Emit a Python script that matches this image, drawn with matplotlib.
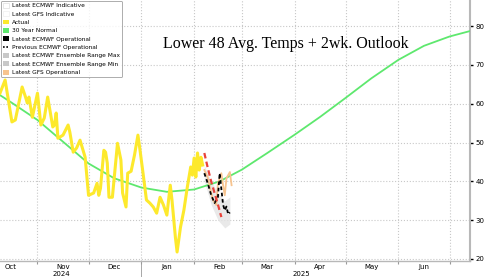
import matplotlib
matplotlib.use("Agg")
import matplotlib.pyplot as plt
import matplotlib.dates as mdates
import matplotlib.transforms as mtransforms
from matplotlib.patches import Patch
from matplotlib.lines import Line2D
import numpy as np

# days counted from Oct 1 2024
actual_day = [9, 12, 16, 18, 22, 24, 25, 26, 28, 31, 33, 35, 37, 40, 41, 42, 43, 46, 49, 50,
              52, 54, 56, 59, 61, 64, 66, 67, 68, 70, 71, 72, 73, 75, 78, 80, 81, 83, 84, 86,
              88, 90, 91, 93, 95, 97, 99, 101, 103, 105, 107, 109, 110, 112, 113, 115, 117, 119,
              121, 122, 123, 124, 125, 126, 127, 128]
actual_temp = [62.7, 66.1, 55.3, 55.8, 64.3, 61.7, 60.2, 61.7, 56.5, 62.7, 54.5, 56.3, 61.7, 54.0,
               54.5, 57.6, 51.1, 51.9, 54.5, 52.7, 47.5, 48.6, 50.6, 46.2, 36.4, 37.0, 39.5, 36.4,
               38.2, 48.0, 47.5, 44.7, 35.9, 35.9, 49.8, 45.5, 37.0, 33.4, 42.1, 42.6, 46.8, 51.9,
               48.8, 42.1, 35.2, 34.4, 33.4, 31.8, 35.9, 33.9, 31.3, 39.0, 35.2, 25.6, 21.8, 28.2,
               32.6, 38.5, 43.7, 41.6, 46.0, 41.1, 47.3, 42.9, 46.2, 44.2]

normal_day = [9, 15, 31, 46, 61, 76, 92, 107, 123, 138, 151, 166, 182, 197, 212, 227, 243, 258, 273, 285]
normal_temp = [62.2, 60.5, 55.8, 50.2, 44.6, 40.8, 38.4, 37.3, 37.9, 40.0, 43.0, 47.3, 52.0, 56.6,
               61.5, 66.5, 71.3, 74.9, 77.3, 78.7]

ecmwf_day = [129, 131, 133, 135, 137, 138, 139, 140, 141, 142, 143, 144]
ecmwf_temp = [42.1, 39.5, 36.5, 34.4, 36.0, 42.1, 38.0, 34.0, 32.5, 33.5, 31.5, 32.0]

prev_day = [129, 131, 133, 135, 137, 139]
prev_temp = [47.3, 43.5, 40.0, 37.0, 34.0, 30.8]

gfs_day = [129, 131, 132, 134, 136, 137, 139, 140, 141, 142, 144, 145]
gfs_temp = [42.9, 41.0, 39.0, 35.2, 33.9, 39.5, 42.1, 39.0, 36.4, 40.8, 42.4, 39.0]

ens_day = [129, 133, 137, 141, 144]
ens_max = [44.0, 40.0, 37.0, 35.0, 36.0]
ens_min = [40.0, 34.0, 30.0, 28.0, 29.0]

legend_labels = ["Latest ECMWF Indicative", "Latest GFS Indicative", "Actual", "30 Year Normal",
                 "Latest ECMWF Operational", "Previous ECMWF Operational",
                 "Latest ECMWF Ensemble Range Max", "Latest ECMWF Ensemble Range Min",
                 "Latest GFS Operational"]

start = np.datetime64("2024-10-01")


def to_dates(days):
    return start + np.array(days, dtype="timedelta64[D]")


fig = plt.figure(figsize=(4.85, 2.77), dpi=100)
ax = fig.add_axes([0, 0.058, 0.969, 0.942])

ax.plot(to_dates(normal_day), normal_temp, color="#5ee86e", lw=1.3, zorder=3)
ax.fill_between(to_dates(ens_day), ens_min, ens_max, color="#e4e4e4", lw=0, alpha=0.8, zorder=2)
ax.plot(to_dates(actual_day), actual_temp, color="#fde92c", lw=2.2, zorder=4,
        solid_joinstyle="round")
ax.plot(to_dates(gfs_day), gfs_temp, color="#f7c48f", lw=1.3, zorder=4)
ax.plot(to_dates(ecmwf_day), ecmwf_temp, color="black", lw=1.3, ls=(0, (2, 1.5)), zorder=5)
ax.plot(to_dates(prev_day), prev_temp, color="#e8423a", lw=1.6, ls=(0, (2.5, 1.5)), zorder=5)

ax.set_xlim(np.datetime64("2024-10-10"), np.datetime64("2025-07-13"))
ax.set_ylim(19.5, 86.7)

ax.yaxis.tick_right()
ax.set_yticks([20, 30, 40, 50, 60, 70, 80])
ax.tick_params(axis="y", labelsize=5, length=2, width=1, pad=2, color="black")

ax.xaxis.set_major_locator(mdates.MonthLocator())
ax.xaxis.set_minor_locator(mdates.MonthLocator(bymonthday=16))
ax.xaxis.set_major_formatter(plt.NullFormatter())
ax.xaxis.set_minor_formatter(mdates.DateFormatter("%b"))
ax.tick_params(axis="x", which="major", length=2, color="#999999")
ax.tick_params(axis="x", which="minor", length=0, labelsize=5, pad=2)

ax.grid(True, which="major", color="#c8c8c8", ls=":", lw=0.8)

for side in ["left", "top"]:
    ax.spines[side].set_visible(False)
ax.spines["right"].set_color("#b8b8b8")
ax.spines["right"].set_linewidth(1.5)
ax.spines["bottom"].set_color("#b8b8b8")
ax.spines["bottom"].set_linewidth(1)

# year labels under the months
trans = mtransforms.blended_transform_factory(ax.transData, fig.transFigure)
ax.text(np.datetime64("2024-11-15"), 0.004, "2024", transform=trans, fontsize=5, ha="center")
ax.text(np.datetime64("2025-04-05"), 0.004, "2025", transform=trans, fontsize=5, ha="center")
ax.plot([np.datetime64("2025-01-01")] * 2, [0.0, 0.055], transform=trans, color="#999999",
        lw=0.6, clip_on=False)

fig.text(0.336, 0.827, "Lower 48 Avg. Temps + 2wk. Outlook", family="Liberation Serif",
         fontsize=11.5, va="baseline")

handles = [
    Patch(facecolor="white", edgecolor="#dddddd", lw=0.5),
    Patch(facecolor="white", edgecolor="#eeeeee", lw=0.5),
    Patch(facecolor="#fde92c"),
    Patch(facecolor="#5ee86e"),
    Patch(facecolor="black"),
    Line2D([0], [0], color="black", ls=(0, (1, 1)), lw=1.2),
    Patch(facecolor="#c8c8c8"),
    Patch(facecolor="#c8c8c8"),
    Patch(facecolor="#f7c48f"),
]
leg = ax.legend(handles, legend_labels, loc="upper left", bbox_to_anchor=(0, 1), fontsize=4.2,
                frameon=True, fancybox=True, edgecolor="#888888", handlelength=1.0,
                handleheight=0.9, handletextpad=0.5, labelspacing=0.5, borderpad=0.4,
                borderaxespad=0.1)
leg.get_frame().set_linewidth(0.6)
leg.set_zorder(10)

fig.savefig("out.png", dpi=100)
